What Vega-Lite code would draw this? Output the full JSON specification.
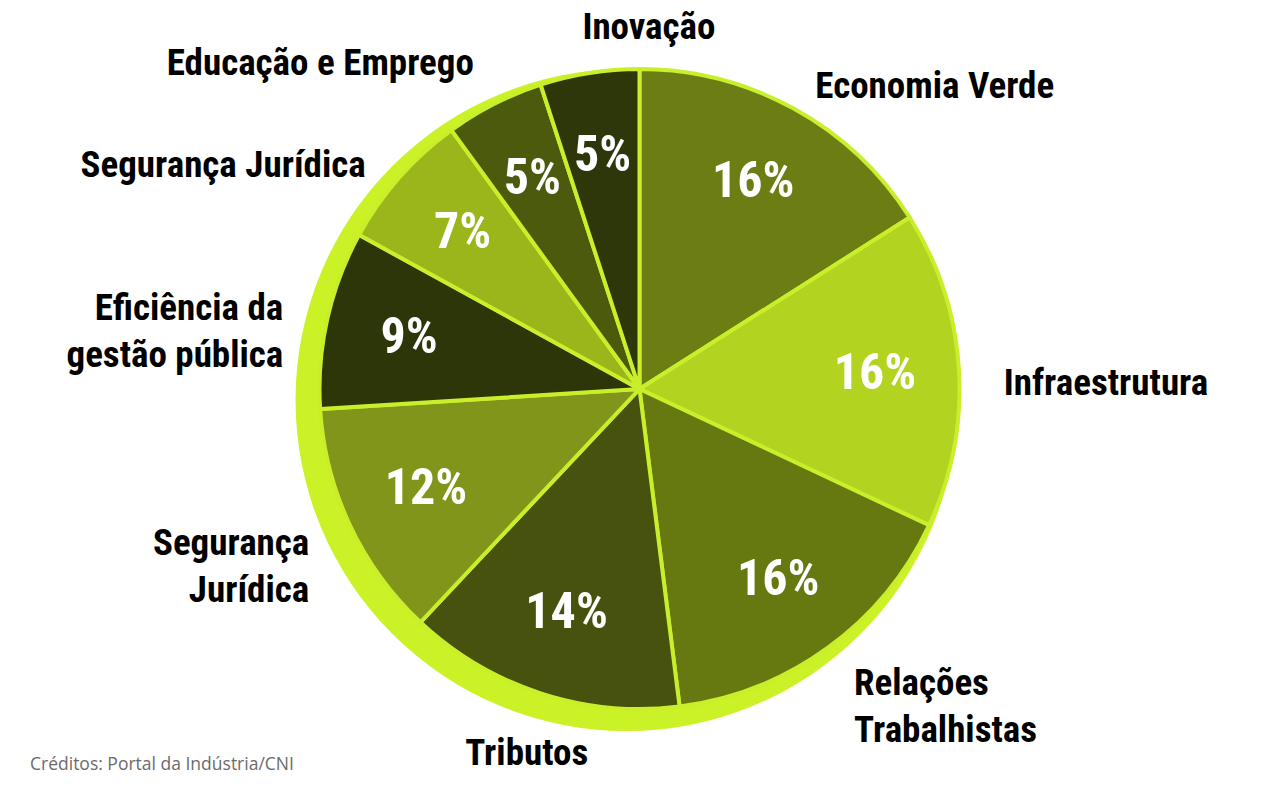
{
  "$schema": "https://vega.github.io/schema/vega-lite/v6.json",
  "width": 1279,
  "height": 778,
  "autosize": {"type": "none"},
  "padding": {"left": 0, "top": 0, "right": 0, "bottom": 15},
  "background": "white",
  "config": {"view": {"stroke": null}},
  "title": {
    "text": "Créditos: Portal da Indústria/CNI",
    "orient": "bottom",
    "anchor": "start",
    "frame": "group",
    "offset": -22,
    "dx": 30,
    "font": "Open Sans",
    "fontSize": 17.5,
    "fontWeight": "normal",
    "color": "#6b6b6b"
  },
  "data": {
    "values": [
      {"ordem": 1, "categoria": "Economia Verde", "valor": 0.16},
      {"ordem": 2, "categoria": "Infraestrutura", "valor": 0.16},
      {"ordem": 3, "categoria": "Relações\nTrabalhistas", "valor": 0.16},
      {"ordem": 4, "categoria": "Tributos", "valor": 0.14},
      {"ordem": 5, "categoria": "Segurança\nJurídica", "valor": 0.12},
      {"ordem": 6, "categoria": "Eficiência da\ngestão pública", "valor": 0.09},
      {"ordem": 7, "categoria": "Segurança Jurídica", "valor": 0.07},
      {"ordem": 8, "categoria": "Educação e Emprego", "valor": 0.05},
      {"ordem": 9, "categoria": "Inovação", "valor": 0.05}
    ]
  },
  "layer": [
    {
      "data": {"values": [{"forma": "sombra"}]},
      "mark": {
        "type": "arc",
        "theta": 0,
        "theta2": 6.2832,
        "outerRadius": 331,
        "x": {"expr": "width/2 - 13"},
        "y": {"expr": "height/2 + 11"},
        "fill": "#cbf226"
      },
      "encoding": {}
    },
    {
      "mark": {"type": "arc", "outerRadius": 320, "stroke": "#c8ef2a", "strokeWidth": 4},
      "encoding": {
        "theta": {"field": "valor", "type": "quantitative", "stack": true},
        "order": {"field": "ordem", "type": "quantitative"},
        "color": {
          "field": "ordem",
          "type": "nominal",
          "scale": {
            "domain": [1, 2, 3, 4, 5, 6, 7, 8, 9],
            "range": ["#6c7d14", "#b2d420", "#667810", "#46520d", "#80951a", "#2c3609", "#9ab61a", "#4c5a0d", "#2d370a"]
          },
          "legend": null
        }
      }
    },
    {
      "mark": {
        "type": "text",
        "radius": 236,
        "font": "'Roboto Condensed', 'DejaVu Sans Condensed', sans-serif",
        "fontWeight": "bold",
        "fontSize": 50,
        "fill": "white",
        "baseline": "middle",
        "align": "center"
      },
      "encoding": {
        "theta": {"field": "valor", "type": "quantitative", "stack": true},
        "order": {"field": "ordem", "type": "quantitative"},
        "text": {"field": "valor", "type": "quantitative", "format": ".0%"}
      }
    },
    {
      "mark": {
        "type": "text",
        "radius": 365,
        "font": "'Roboto Condensed', 'DejaVu Sans Condensed', sans-serif",
        "fontWeight": "bold",
        "fontSize": 37,
        "fill": "black",
        "lineBreak": "\n",
        "lineHeight": 47,
        "baseline": {"expr": "(datum.valor_start + datum.valor_end) < 0.5 || ((datum.valor_start + datum.valor_end) >= 1.0 && (datum.valor_start + datum.valor_end) < 1.2) || ((datum.valor_start + datum.valor_end) >= 1.6 && (datum.valor_start + datum.valor_end) < 1.8) ? 'top' : 'middle'"},
        "align": {"expr": "(datum.valor_start + datum.valor_end) < 1.0 ? 'left' : (datum.valor_start + datum.valor_end) < 1.2 ? 'center' : (datum.valor_start + datum.valor_end) < 1.9 ? 'right' : 'left'"}
      },
      "encoding": {
        "theta": {"field": "valor", "type": "quantitative", "stack": true},
        "order": {"field": "ordem", "type": "quantitative"},
        "text": {"field": "categoria", "type": "nominal"}
      }
    }
  ]
}
